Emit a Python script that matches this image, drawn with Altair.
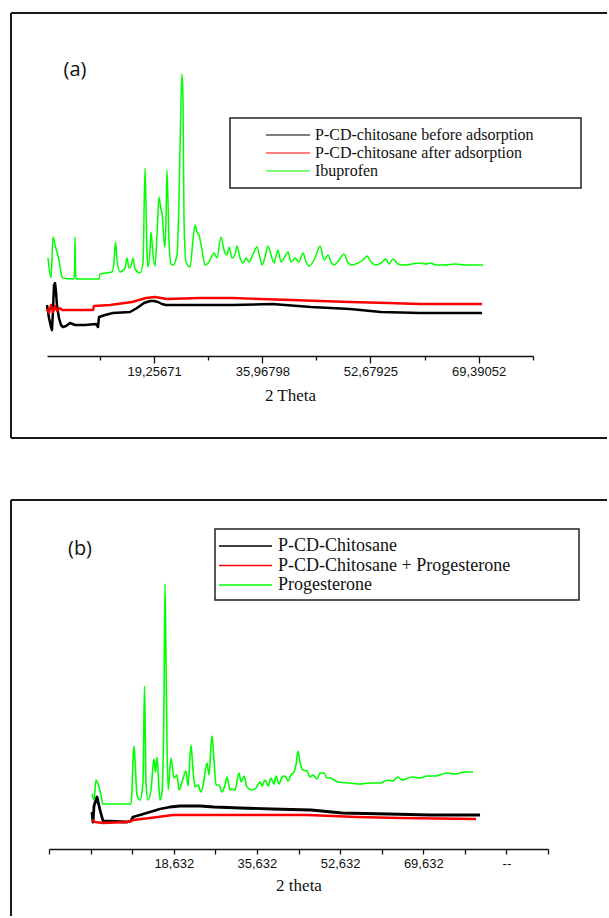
import altair as alt
import pandas as pd

# ---------------- panel (a): P-CD-chitosane and ibuprofen ----------------
A_SERIES = ["P-CD-chitosane before adsorption", "P-CD-chitosane after adsorption", "Ibuprofen"]
A_COLORS = ["#000000", "#ff0000", "#00ff00"]
A_WIDTHS = [2.5, 2.4, 1.5]

A_BEFORE_THETA = [2.70, 3.01, 3.32, 3.47, 3.63, 3.78, 3.94, 4.09, 4.25, 4.55, 4.86, 5.17, 5.64, 6.25,
                  7.03, 8.57, 10.27, 10.58, 10.74, 11.66, 12.90, 15.53, 16.61, 17.69, 18.62, 19.24,
                  19.85, 20.47, 21.09, 26.34, 31.44, 37.47, 43.50, 49.53, 54.32, 60.34, 69.93]
A_BEFORE_INT = [510, 380, 290, 260, 460, 710, 730, 640, 500, 380, 310, 290, 300, 330,
                310, 310, 320, 290, 390, 410, 430, 440, 480, 530, 550, 550,
                540, 520, 510, 510, 510, 520, 490, 470, 440, 430, 430]

A_AFTER_THETA = [2.70, 3.01, 3.32, 3.63, 3.94, 4.25, 4.71, 5.02, 9.81, 9.96, 12.44, 15.84, 18.00,
                 19.39, 21.24, 26.34, 31.44, 35.62, 40.41, 44.89, 49.53, 55.40, 60.34, 69.93]
A_AFTER_INT = [470, 430, 510, 440, 500, 450, 480, 460, 460, 500, 510, 540, 580,
               590, 570, 580, 580, 570, 560, 550, 540, 530, 520, 520]

A_IBU_THETA = [2.85, 3.32, 3.63, 3.94, 4.55, 5.02, 5.17, 6.87, 6.97, 7.03, 7.10, 7.18, 10.74, 10.89,
               12.75, 13.05, 13.29, 13.52, 13.98, 14.75, 15.06, 15.37, 15.68, 15.99, 16.30, 17.07,
               17.54, 17.85, 18.16, 18.31, 18.62, 18.77, 19.08, 19.39, 19.70, 20.01, 20.32, 20.47,
               20.78, 20.94, 21.09, 21.24, 21.55, 21.86, 22.17, 22.79, 23.10, 23.41, 23.56, 23.72,
               23.87, 24.18, 24.80, 25.26, 25.57, 25.88, 26.19, 26.65, 27.12, 27.74, 28.51, 28.97,
               29.59, 30.05, 30.52, 30.83, 31.29, 31.75, 32.06, 32.53, 32.99, 33.45, 33.92, 34.54,
               35.15, 35.62, 35.93, 36.39, 36.85, 37.32, 37.78, 38.09, 38.40, 38.86, 39.33, 39.94,
               40.41, 41.03, 41.64, 42.26, 42.73, 43.19, 44.12, 44.89, 45.51, 46.13, 46.59, 47.05,
               47.83, 48.60, 49.22, 49.83, 50.76, 51.53, 52.15, 52.77, 53.54, 54.32, 55.09, 55.55,
               56.17, 56.94, 57.87, 59.11, 60.34, 61.27, 61.89, 62.82, 64.21, 65.75, 67.30, 68.84,
               70.08]
A_IBU_INT = [980, 780, 1190, 1110, 960, 790, 780, 770, 860, 1190, 860, 770, 770, 820,
             840, 940, 1140, 960, 840, 880, 980, 880, 900, 980, 870, 830,
             940, 1880, 1010, 890, 1060, 1240, 1010, 900, 1210, 1590, 1460, 1430,
             1160, 1090, 1360, 1860, 1160, 920, 910, 1010, 1560, 2560, 2820, 2560,
             1360, 940, 890, 1160, 1310, 1240, 1210, 1060, 910, 940, 1030, 980,
             1190, 1060, 1010, 1090, 980, 1010, 1100, 980, 930, 980, 940, 1020,
             1090, 980, 910, 990, 1100, 1010, 930, 1000, 1060, 940, 980, 1040,
             940, 980, 940, 1030, 940, 900, 980, 1100, 960, 1010, 940, 910,
             960, 1020, 930, 910, 930, 960, 1000, 940, 910, 930, 970, 920,
             970, 920, 910, 920, 930, 920, 930, 910, 910, 920, 910, 910,
             910]

A_TICK_VALUES = [10.90108, 19.25671, 27.61235, 35.96798, 44.32362, 52.67925, 61.03489, 69.39052, 77.74616]
A_TICK_TEXT = ["", "19,25671", "", "35,96798", "", "52,67925", "", "69,39052", ""]

# ---------------- panel (b): P-CD-Chitosane and progesterone ----------------
B_SERIES = ["P-CD-Chitosane", "P-CD-Chitosane + Progesterone", "Progesterone"]
B_COLORS = ["#000000", "#ff0000", "#00ff00"]
B_WIDTHS = [2.8, 2.4, 1.6]

B_CHIT_THETA = [1.92, 2.13, 2.33, 2.74, 2.94, 3.56, 4.17, 9.08, 9.89, 10.30, 11.73, 13.78, 15.82,
                17.87, 19.91, 24.00, 26.86, 32.18, 38.72, 46.69, 53.03, 62.43, 71.02, 81.24]
B_CHIT_INT = [370, 270, 430, 490, 520, 390, 280, 270, 280, 320, 340, 370, 400,
              420, 430, 430, 420, 410, 400, 390, 360, 350, 340, 340]

B_LOADED_THETA = [1.92, 2.54, 4.17, 9.08, 9.89, 10.30, 13.78, 18.48, 24.00, 34.22, 45.87, 56.09, 64.88, 80.42]
B_LOADED_INT = [290, 270, 260, 270, 280, 290, 310, 340, 340, 340, 340, 320, 310, 300]

B_PROG_THETA = [1.92, 2.33, 2.74, 3.15, 3.76, 4.17, 9.89, 10.10, 10.30, 10.51, 10.71, 11.12, 11.73,
                12.35, 12.65, 12.96, 13.37, 13.98, 14.60, 14.90, 15.21, 15.52, 15.82, 16.23, 16.64,
                16.85, 17.05, 17.46, 18.07, 18.68, 19.30, 19.71, 20.32, 21.14, 21.54, 22.16, 22.57,
                22.98, 23.59, 24.20, 24.82, 25.43, 25.84, 26.26, 26.46, 26.86, 27.27, 27.88, 28.50,
                29.11, 29.52, 30.13, 30.54, 31.15, 31.97, 32.38, 33.00, 33.61, 34.63, 35.45, 36.27,
                36.67, 37.29, 37.90, 38.51, 39.13, 39.54, 40.15, 40.76, 41.38, 41.99, 42.60, 43.22,
                43.62, 44.03, 44.44, 45.06, 45.87, 46.49, 47.10, 47.92, 48.53, 49.35, 49.96, 50.57,
                52.21, 54.66, 56.71, 58.54, 60.80, 62.43, 63.45, 64.47, 65.29, 67.34, 68.97, 70.40,
                72.04, 74.49, 76.13, 78.17, 79.81]
B_PROG_INT = [550, 490, 690, 650, 540, 450, 450, 590, 890, 1030, 890, 540, 490,
              670, 1630, 670, 490, 590, 900, 770, 920, 690, 490, 570, 1490,
              2650, 1890, 590, 910, 710, 740, 590, 670, 780, 630, 1040, 790,
              620, 640, 570, 690, 860, 740, 1040, 1130, 890, 640, 640, 570,
              640, 720, 590, 600, 590, 760, 670, 730, 620, 590, 610, 670,
              630, 690, 630, 710, 650, 730, 650, 720, 730, 680, 740, 770,
              840, 980, 870, 790, 780, 720, 740, 700, 760, 760, 710, 710,
              670, 660, 650, 660, 660, 690, 680, 720, 690, 720, 710, 730,
              730, 760, 750, 770, 770]

B_TICK_VALUES = [-6.868, 1.632, 10.132, 18.632, 27.132, 35.632, 44.132, 52.632, 61.132,
                 69.632, 78.132, 86.632, 95.132]
B_TICK_TEXT = ["", "", "", "18,632", "", "35,632", "", "52,632", "", "69,632", "", "--", ""]


def long_table(names, thetas, ints):
    rows = []
    for name, th, it in zip(names, thetas, ints):
        for i, (t, v) in enumerate(zip(th, it)):
            rows.append({"series": name, "theta": t, "intensity": v, "idx": i})
    return pd.DataFrame(rows)


def label_expr(values, texts):
    parts = [f"abs(datum.value - {v}) < 1e-6 ? '{t}'" for v, t in zip(values, texts) if t]
    return " : ".join(parts) + " : ''"


def labelled_test(values, texts):
    return " || ".join(f"abs(datum.value - {v}) < 1e-6" for v, t in zip(values, texts) if t)


ONE = pd.DataFrame({"k": [0]})
FRAME = "#1a1a1a"


def hline(x0, x1, y, width=2.0, color=FRAME):
    return alt.Chart(ONE).mark_rule(color=color, strokeWidth=width, strokeCap="butt").encode(
        x=alt.value(x0), x2=alt.value(x1), y=alt.value(y))


def vline(x, y0, y1, width=2.0, color=FRAME):
    return alt.Chart(ONE).mark_rule(color=color, strokeWidth=width, strokeCap="butt").encode(
        x=alt.value(x), y=alt.value(y0), y2=alt.value(y1))


def box(x0, x1, y0, y1):
    return alt.Chart(ONE).mark_rect(fillOpacity=0, stroke="#222222", strokeWidth=1.5).encode(
        x=alt.value(x0), x2=alt.value(x1), y=alt.value(y0), y2=alt.value(y1))


def tag(text, x, y):
    return alt.Chart(ONE).mark_text(text=text, font="Open Sans", fontSize=20, color="#111111",
                                    align="center", baseline="middle").encode(
        x=alt.value(x), y=alt.value(y))


def trace_layers(data, names, widths, interps, x_enc, y_enc, color_enc):
    layers = []
    for name, w, interp in zip(names, widths, interps):
        layers.append(
            alt.Chart(data).transform_filter(alt.datum.series == name)
            .mark_line(strokeWidth=w, strokeJoin="round", interpolate=interp)
            .encode(x=x_enc, y=y_enc, color=color_enc, order="idx:Q")
        )
    return layers


# ---------------- panel (a) ----------------
data_a = long_table(A_SERIES, [A_BEFORE_THETA, A_AFTER_THETA, A_IBU_THETA],
                    [A_BEFORE_INT, A_AFTER_INT, A_IBU_INT])

x_a = alt.X("theta:Q",
            scale=alt.Scale(domain=[2.70, 77.80], nice=False, zero=False),
            axis=alt.Axis(values=A_TICK_VALUES,
                          labelExpr=label_expr(A_TICK_VALUES, A_TICK_TEXT),
                          tickSize={"condition": {"test": labelled_test(A_TICK_VALUES, A_TICK_TEXT),
                                                  "value": 7}, "value": 4},
                          tickWidth=1.3, tickColor="#111111",
                          domainColor="#111111", domainWidth=1.5,
                          labelFont="Liberation Sans", labelFontSize=13, labelColor="#111111",
                          labelPadding=2, labelFlush=False, labelOverlap=False, grid=False,
                          title="2 Theta", titleFont="Liberation Serif", titleFontSize=17,
                          titleFontWeight="normal", titleColor="#111111",
                          titleBaseline="middle", titleY=39))
y_a = alt.Y("intensity:Q", scale=alt.Scale(domain=[0, 3430], nice=False), axis=None)
color_a = alt.Color("series:N", scale=alt.Scale(domain=A_SERIES, range=A_COLORS),
                    legend=alt.Legend(title=None, orient="none", legendX=218, legendY=114,
                                      direction="vertical", symbolType="stroke", symbolSize=1936,
                                      symbolStrokeWidth=1.1, clipHeight=16,
                                      labelFont="Liberation Serif",
                                      labelFontSize=16, labelColor="#111111", labelLimit=0,
                                      labelOffset=4, rowPadding=2, padding=0))

panel_a = alt.layer(
    hline(-36, 560, 0), hline(-36, 560, 425), vline(-36, 0, 425),
    box(183, 534, 105, 175),
    *trace_layers(data_a, A_SERIES, A_WIDTHS, ["linear", "linear", "monotone"], x_a, y_a, color_a),
    tag("(a)", 28, 57),
).properties(width=486, height=343)

# ---------------- panel (b) ----------------
data_b = long_table(B_SERIES, [B_CHIT_THETA, B_LOADED_THETA, B_PROG_THETA],
                    [B_CHIT_INT, B_LOADED_INT, B_PROG_INT])

x_b = alt.X("theta:Q",
            scale=alt.Scale(domain=[-6.868, 95.132], range=[2, 501], nice=False, zero=False),
            axis=alt.Axis(values=B_TICK_VALUES,
                          labelExpr=label_expr(B_TICK_VALUES, B_TICK_TEXT),
                          tickSize=5, tickWidth=1.3, tickColor="#111111",
                          domainColor="#111111", domainWidth=1.5,
                          labelFont="Liberation Sans", labelFontSize=13, labelColor="#111111",
                          labelPadding=3, labelFlush=False, labelOverlap=False, grid=False,
                          title="2 theta", titleFont="Liberation Serif", titleFontSize=17,
                          titleFontWeight="normal", titleColor="#111111",
                          titleBaseline="middle", titleY=36))
y_b = alt.Y("intensity:Q", scale=alt.Scale(domain=[0, 3490], nice=False), axis=None)
color_b = alt.Color("series:N", scale=alt.Scale(domain=B_SERIES, range=B_COLORS),
                    legend=alt.Legend(title=None, orient="none", legendX=171, legendY=37,
                                      direction="vertical", symbolType="stroke", symbolSize=2809,
                                      symbolStrokeWidth=1.6, clipHeight=18,
                                      labelFont="Liberation Serif",
                                      labelFontSize=18, labelColor="#111111", labelLimit=0,
                                      labelOffset=5, rowPadding=1.5, padding=0))

panel_b = alt.layer(
    hline(-36, 560, 0), vline(-36, 0, 416),
    box(168, 532, 29, 100),
    *trace_layers(data_b, B_SERIES, B_WIDTHS, ["linear", "linear", "monotone"], x_b, y_b, color_b),
    tag("(b)", 33, 49),
).properties(width=501, height=349)

chart = alt.vconcat(panel_a, panel_b, spacing=144, bounds="flush").properties(
    padding={"left": 10, "top": 12, "right": 0, "bottom": 0},
).configure_view(stroke=None).resolve_scale(color="independent", x="independent", y="independent")

chart.save("out.html", embed_options={"renderer": "svg", "actions": False})
